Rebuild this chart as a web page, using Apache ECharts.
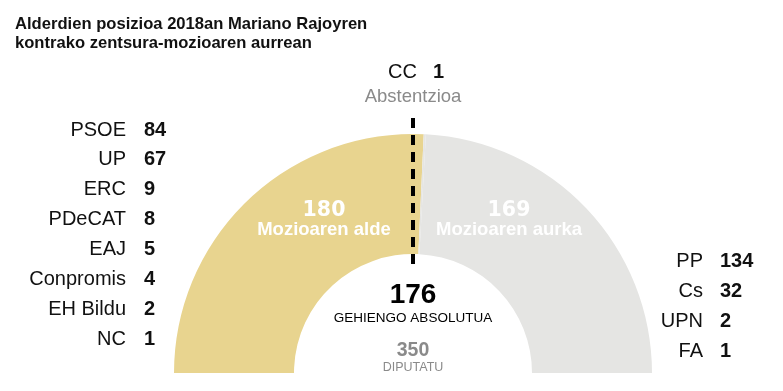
<!DOCTYPE html>
<html><head><meta charset="utf-8">
<script src="https://cdn.jsdelivr.net/npm/echarts@6/dist/echarts.min.js"></script>
<style>html,body{margin:0;padding:0;background:#fff}#c{width:783px;height:391px}</style>
</head><body><div id="c"></div>
<script>
const titleLines = ['Alderdien posizioa 2018an Mariano Rajoyren', 'kontrako zentsura-mozioaren aurrean'];
const voteGroups = ['Mozioaren alde', 'Abstentzioa', 'Mozioaren aurka'];
const voteValues = [180, 1, 169];
const totalSeats = 350;
const majority = 176;
const forParties = ['PSOE', 'UP', 'ERC', 'PDeCAT', 'EAJ', 'Conpromis', 'EH Bildu', 'NC'];
const forSeats = [84, 67, 9, 8, 5, 4, 2, 1];
const againstParties = ['PP', 'Cs', 'UPN', 'FA'];
const againstSeats = [134, 32, 2, 1];
const abstainParties = ['CC'];
const abstainSeats = [1];

const YELLOW = '#e8d48f', GREY = '#e5e5e3', TXTGREY = '#8a8a8a';
const FONT = '"Liberation Sans", Arial, sans-serif';
const WIDE = '"DejaVu Sans", sans-serif';
const CX = 413, CY = 373;

const chart = echarts.init(document.getElementById('c'), null, {renderer: 'canvas'});

const graphics = [];
titleLines.forEach((t, i) => graphics.push({type: 'text', left: 15, top: 16 + i * 18.5,
  style: {text: t, font: 'bold 16.6px ' + FONT, fill: '#111'}}));

function row(name, val, xName, xVal, y) {
  graphics.push({type: 'text', x: xName, y: y, style: {text: name, font: '20px ' + FONT, fill: '#111', align: 'right', verticalAlign: 'middle'}});
  graphics.push({type: 'text', x: xVal, y: y, style: {text: String(val), font: 'bold 20px ' + FONT, fill: '#111', align: 'left', verticalAlign: 'middle'}});
}
forParties.forEach((p, i) => row(p, forSeats[i], 126, 144, 130 + i * 29.9));
againstParties.forEach((p, i) => row(p, againstSeats[i], 703, 720, 261.5 + i * 29.9));
abstainParties.forEach((p, i) => row(p, abstainSeats[i], 417, 433, 72));
graphics.push({type: 'text', x: 413, y: 97, style: {text: voteGroups[1], font: '18.5px ' + FONT, fill: TXTGREY, align: 'center', verticalAlign: 'middle'}});

function centerLabel(num, lab, x) {
  graphics.push({type: 'text', x: x, y: 210.5, z: 10, style: {text: String(num), font: 'bold 20.5px ' + WIDE, fill: '#fff', align: 'center', verticalAlign: 'middle'}});
  graphics.push({type: 'text', x: x, y: 229.5, z: 10, style: {text: lab, font: 'bold 18.5px ' + FONT, fill: '#fff', align: 'center', verticalAlign: 'middle'}});
}
centerLabel(voteValues[0], voteGroups[0], 324);
centerLabel(voteValues[2], voteGroups[2], 509);

graphics.push({type: 'text', x: 413, y: 295, z: 10, style: {text: String(majority), font: 'bold 28px ' + FONT, fill: '#000', align: 'center', verticalAlign: 'middle'}});
graphics.push({type: 'text', x: 413, y: 318.5, z: 10, style: {text: 'GEHIENGO ABSOLUTUA', font: '13.5px ' + FONT, fill: '#000', align: 'center', verticalAlign: 'middle'}});
graphics.push({type: 'text', x: 413, y: 350.5, z: 10, style: {text: String(totalSeats), font: 'bold 19.5px ' + FONT, fill: TXTGREY, align: 'center', verticalAlign: 'middle'}});
graphics.push({type: 'text', x: 413, y: 368, z: 10, style: {text: 'DIPUTATU', font: '12.5px ' + FONT, fill: TXTGREY, align: 'center', verticalAlign: 'middle'}});

const colors = [YELLOW, GREY, GREY];

chart.setOption({
  animation: false,
  polar: [
    {center: [CX, CY], radius: [119, 239]},
    {center: [CX, CY], radius: [0, 256]}
  ],
  angleAxis: [
    {polarIndex: 0, type: 'value', min: 0, max: totalSeats * 2, startAngle: 180, clockwise: true, show: false},
    {polarIndex: 1, type: 'value', min: 0, max: totalSeats * 2, startAngle: 180, clockwise: true, show: false}
  ],
  radiusAxis: [
    {polarIndex: 0, type: 'category', data: ['seats'], show: false},
    {polarIndex: 1, type: 'value', min: 0, max: 256, show: false}
  ],
  series: voteGroups.map((g, i) => ({
    type: 'bar', name: g, coordinateSystem: 'polar', polarIndex: 0, stack: 'votes',
    barCategoryGap: '0%', barWidth: '100%', silent: true,
    itemStyle: {color: colors[i]}, data: [voteValues[i]]
  })).concat([{
    type: 'line', coordinateSystem: 'polar', polarIndex: 1, symbol: 'none', silent: true, z: 5,
    lineStyle: {color: '#000', width: 4, type: [10, 7]},
    data: [[255, totalSeats / 2], [103, totalSeats / 2]]
  }]),
  graphic: graphics
});
</script></body></html>
